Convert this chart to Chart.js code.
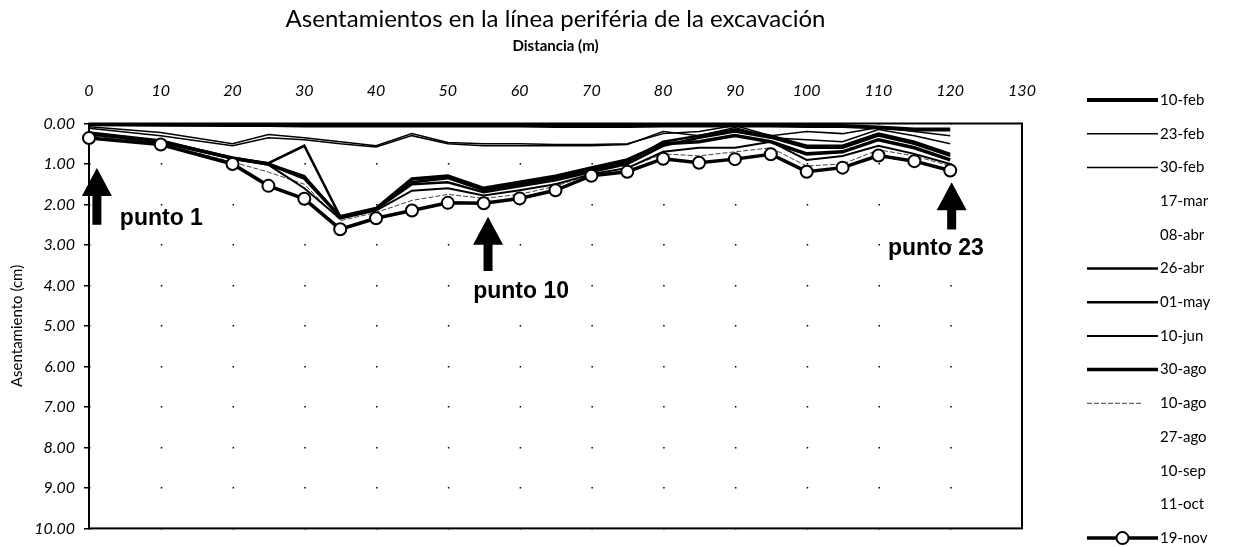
<!DOCTYPE html>
<html>
<head>
<meta charset="utf-8">
<title>Asentamientos</title>
<script src="https://cdn.jsdelivr.net/npm/chart.js@4.4.1/dist/chart.umd.min.js"></script>
<style>
  body { margin: 0; background: #fff; }
  canvas { display: block; }
</style>
</head>
<body>
<canvas id="chartAsentamientos" width="1233" height="547"></canvas>
<script>
// distancia de cada punto sobre la línea periférica (m)
const distancias = [0, 10, 20, 25, 30, 35, 40, 45, 50, 55, 60, 65, 70, 75, 80, 85, 90, 95, 100, 105, 110, 115, 120];

const fechas = ["10-feb", "23-feb", "30-feb", "17-mar", "08-abr", "26-abr", "01-may",
                "10-jun", "30-ago", "10-ago", "27-ago", "10-sep", "11-oct", "19-nov"];

// asentamiento medido en cada fecha (cm)
const s10feb = [0.02, 0.03, 0.04, 0.04, 0.05, 0.05, 0.05, 0.05, 0.05, 0.05, 0.05, 0.06, 0.06, 0.06, 0.05, 0.05, 0.05, 0.05, 0.06, 0.06, 0.10, 0.15, 0.15];
const s23feb = [0.08, 0.22, 0.50, 0.27, 0.35, 0.45, 0.55, 0.25, 0.47, 0.50, 0.50, 0.52, 0.52, 0.50, 0.25, 0.20, 0.05, 0.30, 0.20, 0.25, 0.10, 0.20, 0.30];
const s30feb = [0.12, 0.30, 0.55, 0.35, 0.40, 0.50, 0.58, 0.30, 0.50, 0.55, 0.55, 0.55, 0.55, 0.52, 0.20, 0.30, 0.10, 0.35, 0.40, 0.45, 0.15, 0.30, 0.50];
const s17mar = [];
const s08abr = [];
const s26abr = [0.22, 0.42, 0.85, 0.98, 0.55, 2.30, 2.10, 1.45, 1.35, 1.65, 1.50, 1.35, 1.15, 0.95, 0.45, 0.30, 0.15, 0.30, 0.55, 0.55, 0.25, 0.45, 0.75];
const s01may = [0.24, 0.44, 0.86, 1.00, 1.30, 2.32, 2.12, 1.50, 1.45, 1.70, 1.55, 1.40, 1.20, 1.00, 0.55, 0.35, 0.20, 0.35, 0.60, 0.60, 0.30, 0.50, 0.80];
const s10jun = [0.26, 0.46, 0.88, 1.02, 1.60, 2.35, 2.15, 1.66, 1.60, 1.78, 1.65, 1.50, 1.25, 1.10, 0.70, 0.60, 0.60, 0.45, 0.90, 0.80, 0.55, 0.75, 1.00];
const s30ago = [0.25, 0.45, 0.85, 1.00, 1.35, 2.30, 2.10, 1.37, 1.30, 1.60, 1.45, 1.30, 1.10, 0.90, 0.50, 0.45, 0.30, 0.45, 0.75, 0.70, 0.40, 0.60, 0.90];
const s10ago = [0.30, 0.50, 0.95, 1.20, 1.50, 2.40, 2.20, 1.90, 1.75, 1.85, 1.75, 1.55, 1.25, 1.10, 0.75, 0.80, 0.70, 0.60, 1.05, 1.00, 0.65, 0.80, 1.05];
const s27ago = [];
const s10sep = [];
const s11oct = [];
const s19nov = [0.36, 0.52, 1.00, 1.54, 1.86, 2.61, 2.34, 2.15, 1.96, 1.97, 1.85, 1.65, 1.29, 1.19, 0.87, 0.97, 0.88, 0.76, 1.19, 1.09, 0.79, 0.93, 1.16];

const yTicks = [0, 1, 2, 3, 4, 5, 6, 7, 8, 9, 10];

const series = [s10feb, s23feb, s30feb, s17mar, s08abr, s26abr, s01may,
                s10jun, s30ago, s10ago, s27ago, s10sep, s11oct, s19nov];
const grosores = [4, 1.5, 1.5, 0, 0, 2.5, 2.5, 2, 3.5, 1, 0, 0, 0, 3.5];

// flechas con su rótulo, en unidades de los ejes (m, cm)
const flechas = [
    { texto: "punto 1",  x: 1.1,   punta: 1.10, cola: 2.50, tx: 4.3,   ty: 2.35, align: "left" },
    { texto: "punto 10", x: 55.6,  punta: 2.30, cola: 3.64, tx: 60.2,  ty: 4.15, align: "center" },
    { texto: "punto 23", x: 120.2, punta: 1.45, cola: 2.62, tx: 118.0, ty: 3.10, align: "center" }
];

Chart.defaults.color = "#000";
Chart.defaults.font.family = "Lato";

const datasets = series.map((valores, i) => ({
    label          : fechas[i],
    data           : valores.map((v, j) => ({ x: distancias[j], y: v })),
    borderColor    : i === 9 ? "#444" : "#000",
    borderWidth    : grosores[i],
    borderDash     : i === 9 ? [5, 2] : [],
    tension        : 0,
    pointRadius    : i === 13 ? 6 : 0,
    pointBackgroundColor: "#fff",
    pointBorderColor: "#000",
    pointBorderWidth: 2,
    clip           : i === 13 ? false : undefined,
    order          : i === 13 ? -1 : i
}));

// marco del área de trazado
const marco = {
    id: "marco",
    beforeDatasetsDraw(chart) {
        const { ctx, chartArea: a } = chart;
        ctx.save();
        ctx.strokeStyle = "#000";
        ctx.lineWidth = 2;
        ctx.strokeRect(a.left, a.top, a.right - a.left, a.bottom - a.top);
        ctx.restore();
    }
};

// flechas "punto n"
const rotulos = {
    id: "rotulos",
    afterDatasetsDraw(chart) {
        const { ctx } = chart;
        const xs = chart.scales.x, ys = chart.scales.y;
        ctx.save();
        ctx.fillStyle = "#000";
        flechas.forEach(f => {
            const x = xs.getPixelForValue(f.x);
            const yTip = ys.getPixelForValue(f.punta);
            const yTail = ys.getPixelForValue(f.cola);
            const head = 28;
            ctx.beginPath();
            ctx.moveTo(x, yTip);
            ctx.lineTo(x + 15, yTip + head);
            ctx.lineTo(x + 4.5, yTip + head);
            ctx.lineTo(x + 4.5, yTail);
            ctx.lineTo(x - 4.5, yTail);
            ctx.lineTo(x - 4.5, yTip + head);
            ctx.lineTo(x - 15, yTip + head);
            ctx.closePath();
            ctx.fill();

            ctx.font = 'bold 23px "Liberation Sans"';
            ctx.textAlign = f.align;
            ctx.textBaseline = "middle";
            ctx.fillText(f.texto, xs.getPixelForValue(f.tx), ys.getPixelForValue(f.ty));
        });
        ctx.restore();
    }
};

// leyenda a la derecha
const leyenda = {
    id: "leyenda",
    afterDraw(chart) {
        const { ctx } = chart;
        const top = 100, paso = 33.7, x0 = 1087, x1 = 1158;
        ctx.save();
        chart.data.datasets.forEach((ds, i) => {
            const y = top + i * paso;
            if (ds.data.length && ds.borderWidth) {
                ctx.strokeStyle = ds.borderColor;
                ctx.lineWidth = ds.borderWidth;
                ctx.setLineDash(ds.borderDash);
                ctx.beginPath();
                ctx.moveTo(x0, y);
                ctx.lineTo(i === 9 ? 1142 : x1, y);
                ctx.stroke();
                ctx.setLineDash([]);
            }
            if (ds.pointRadius) {
                ctx.fillStyle = "#fff";
                ctx.strokeStyle = "#000";
                ctx.lineWidth = 2;
                ctx.beginPath();
                ctx.arc((x0 + x1) / 2, y, ds.pointRadius, 0, Math.PI * 2);
                ctx.fill();
                ctx.stroke();
            }
            ctx.fillStyle = "#000";
            ctx.font = '15px Lato';
            ctx.textAlign = "left";
            ctx.textBaseline = "middle";
            ctx.fillText(ds.label, 1160, y);
        });
        ctx.restore();
    }
};

new Chart(document.getElementById("chartAsentamientos"), {
    type: "line",
    data: { datasets },
    options: {
        responsive: false,
        animation : false,
        layout    : { padding: { left: 0, right: 211, top: 0, bottom: 14 } },
        plugins   : {
            legend : { display: false },
            tooltip: { enabled: false },
            title  : {
                display : true,
                text    : "Asentamientos en la línea periféria de la excavación",
                fullSize: false,
                font    : { size: 24, weight: "normal" },
                padding : { top: 5, bottom: 0 }
            },
            subtitle: {
                display : true,
                text    : "Distancia (m)",
                fullSize: false,
                color   : "#000",
                font    : { size: 15, weight: "bold" },
                padding : { top: 3, bottom: 0 }
            }
        },
        scales: {
            x: {
                type    : "linear",
                position: "top",
                min     : 0,
                max     : 130,
                grid    : { display: false },
                border  : { display: false },
                ticks   : {
                    stepSize   : 10,
                    maxRotation: 0,
                    autoSkip   : false,
                    padding    : 15,
                    font       : { size: 16, style: "italic" }
                },
                afterFit: scale => { scale.height = 68.7; }
            },
            y: {
                reverse: true,
                min    : 0,
                max    : 10,
                afterBuildTicks: scale => { scale.ticks = yTicks.map(v => ({ value: v })); },
                grid   : {
                    color     : "#000",
                    lineWidth : 1.5,
                    drawTicks : true,
                    tickLength: 5
                },
                border : { display: false, dash: [1.5, 70.27] },
                ticks  : {
                    padding : 9,
                    font    : { size: 16, style: "italic" },
                    callback: v => v.toFixed(2)
                },
                title  : {
                    display: true,
                    text   : "Asentamiento (cm)",
                    font   : { size: 15 },
                    padding: { top: 8, bottom: 0 }
                },
                afterFit: scale => { scale.width = 89; }
            }
        }
    },
    plugins: [marco, rotulos, leyenda]
});
</script>
</body>
</html>
